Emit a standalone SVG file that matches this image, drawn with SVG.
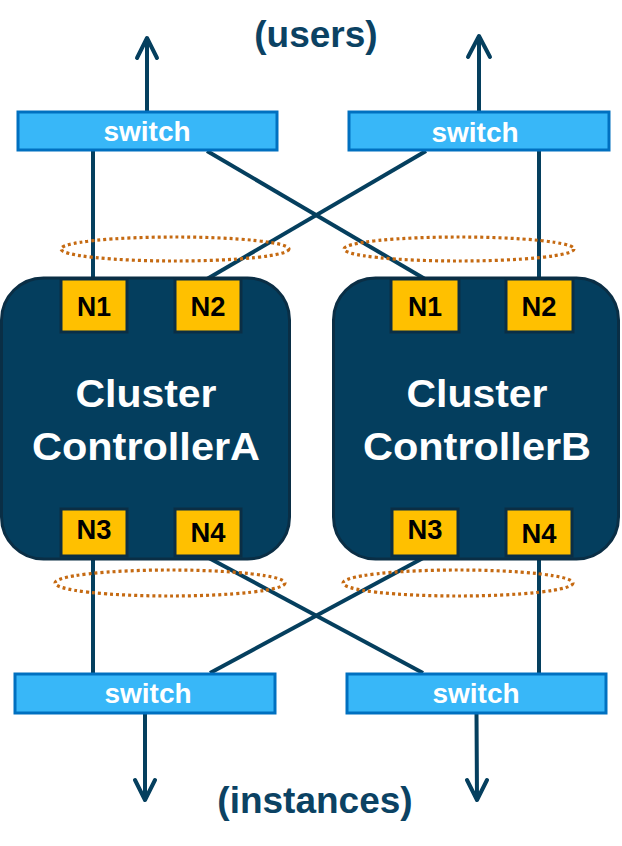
<svg xmlns="http://www.w3.org/2000/svg" width="622" height="846" viewBox="0 0 622 846">
<defs>
<style>
.bg{fill:#ffffff}
.cl{fill:#043E5E;stroke:#0A2E45;stroke-width:3}
.nd{fill:#FFC000;stroke:#0A2E45;stroke-width:3}
.sw{fill:#38B7F8;stroke:#0070C0;stroke-width:3}
.ln{stroke:#053F5E;stroke-width:4;fill:none}
.ar{stroke:#053F5E;stroke-width:4;fill:none;stroke-linecap:round;stroke-linejoin:round}
.el{fill:none;stroke:#C56A12;stroke-width:3.2;stroke-dasharray:3 3}
.t{font-family:"Liberation Sans",Arial,sans-serif;font-weight:bold;text-anchor:middle}
.nt{font-size:28.5px;fill:#000000}
.st{font-size:28px;fill:#ffffff}
.ct{font-size:38px;fill:#ffffff}
.lt{font-size:37px;fill:#0B4263}
</style>
</defs>
<rect class="bg" x="0" y="0" width="622" height="846"/>
<g id="connectors">
<line class="ln" x1="93" y1="151" x2="93" y2="279"/>
<line class="ln" x1="207" y1="151" x2="425" y2="279"/>
<line class="ln" x1="426" y1="151" x2="207" y2="279"/>
<line class="ln" x1="539" y1="151" x2="539" y2="279"/>
<line class="ln" x1="93" y1="557" x2="93" y2="673"/>
<line class="ln" x1="207" y1="557" x2="423" y2="673"/>
<line class="ln" x1="425" y1="557" x2="210" y2="673"/>
<line class="ln" x1="539" y1="557" x2="539" y2="673"/>
<path class="ar" d="M147 111 V40 M137 58 L147 38 L157 58"/>
<path class="ar" d="M479 111 V38 M468 57 L479 36 L490 57"/>
<path class="ar" d="M145 714 V798 M135 780 L145 800 L155 780"/>
<path class="ar" d="M476.5 714 L477 798 M467 780 L477 800 L487 780"/>
</g>
<g id="bonds">
<ellipse class="el" cx="175" cy="249" rx="114" ry="12"/>
<ellipse class="el" cx="459" cy="249" rx="115" ry="12"/>
<ellipse class="el" cx="170" cy="583" rx="115" ry="13"/>
<ellipse class="el" cx="458" cy="583" rx="115" ry="13"/>
</g>
<g id="switch-top-left">
<rect class="sw" x="18" y="112" width="259" height="38"/>
<text class="t st" x="147" y="141">switch</text>
</g>
<g id="switch-top-right">
<rect class="sw" x="349" y="112" width="260" height="38"/>
<text class="t st" x="475" y="142">switch</text>
</g>
<g id="switch-bottom-left">
<rect class="sw" x="15" y="674" width="260" height="39"/>
<text class="t st" x="148" y="703">switch</text>
</g>
<g id="switch-bottom-right">
<rect class="sw" x="347" y="674" width="259" height="39"/>
<text class="t st" x="476" y="703">switch</text>
</g>
<g id="cluster-a">
<rect class="cl" x="1.5" y="278" width="288" height="281" rx="42"/>
<text class="t ct" x="146" y="407" textLength="141" lengthAdjust="spacingAndGlyphs">Cluster</text>
<text class="t ct" x="146" y="460" textLength="228" lengthAdjust="spacingAndGlyphs">ControllerA</text>
</g>
<g id="cluster-b">
<rect class="cl" x="333.5" y="278" width="285" height="281" rx="42"/>
<text class="t ct" x="477" y="407" textLength="141" lengthAdjust="spacingAndGlyphs">Cluster</text>
<text class="t ct" x="477" y="460" textLength="228" lengthAdjust="spacingAndGlyphs">ControllerB</text>
</g>
<g id="a-n1"><rect class="nd" x="61" y="279" width="66" height="53"/><text class="t nt" x="94" y="316" textLength="34" lengthAdjust="spacingAndGlyphs">N1</text></g>
<g id="a-n2"><rect class="nd" x="175" y="279" width="66" height="53"/><text class="t nt" x="208" y="316" textLength="35" lengthAdjust="spacingAndGlyphs">N2</text></g>
<g id="a-n3"><rect class="nd" x="61" y="509" width="66" height="47"/><text class="t nt" x="94" y="539" textLength="35" lengthAdjust="spacingAndGlyphs">N3</text></g>
<g id="a-n4"><rect class="nd" x="175" y="509" width="66" height="47"/><text class="t nt" x="208" y="542" textLength="35" lengthAdjust="spacingAndGlyphs">N4</text></g>
<g id="b-n1"><rect class="nd" x="391" y="279" width="68" height="53"/><text class="t nt" x="425" y="316" textLength="34" lengthAdjust="spacingAndGlyphs">N1</text></g>
<g id="b-n2"><rect class="nd" x="506" y="279" width="67" height="53"/><text class="t nt" x="539" y="316" textLength="35" lengthAdjust="spacingAndGlyphs">N2</text></g>
<g id="b-n3"><rect class="nd" x="392" y="509" width="66" height="47"/><text class="t nt" x="425" y="539" textLength="35" lengthAdjust="spacingAndGlyphs">N3</text></g>
<g id="b-n4"><rect class="nd" x="506" y="509" width="66" height="47"/><text class="t nt" x="539" y="543" textLength="35" lengthAdjust="spacingAndGlyphs">N4</text></g>
<g id="labels">
<text class="t lt" x="316" y="47">(users)</text>
<text class="t lt" x="315" y="813">(instances)</text>
</g>
</svg>
